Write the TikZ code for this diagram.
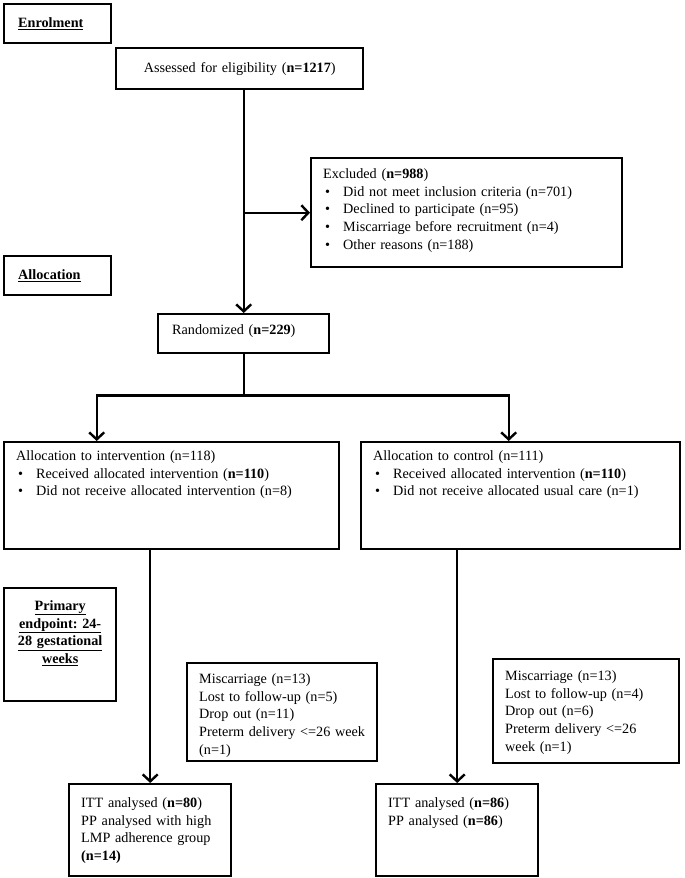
\documentclass[tikz,border=0pt]{standalone}
\usepackage{fontspec}
\setmainfont{Liberation Serif}
\usetikzlibrary{arrows.meta,positioning}
\newcommand{\bul}{\hspace*{2pt}\makebox[18pt][l]{\textbullet}}

\begin{document}
\begin{tikzpicture}[x=1pt, y=-1pt,
    every node/.style={draw, line width=2.4pt, rectangle, anchor=north west, align=left,
      font=\fontsize{14.2}{17.8}\selectfont\frenchspacing, inner xsep=12pt, inner ysep=8pt},
    conn/.style={line width=2.4pt},
    arr/.style={conn, -{Straight Barb[length=7pt,width=15pt]}}]
    \useasboundingbox (0,0) rectangle (685,878);

    % Enrolment
    \node[text width=79pt, inner xsep=14pt, minimum height=39pt] (enrol) at (3,3) {\underline{\textbf{Enrolment}}};
    \node[align=center, text width=223pt, minimum height=41pt] (assess) at (115,47) {Assessed for eligibility (\textbf{n=1217})};
    \node[text width=287pt, text height=12pt, text depth=81pt] (excl) at (310,157) {Excluded (\textbf{n=988})\\
        \bul Did not meet inclusion criteria (n=701)\\
        \bul Declined to participate (n=95)\\
        \bul Miscarriage before recruitment (n=4)\\
        \bul Other reasons (n=188)};

    % Allocation
    \node[text width=79pt, inner xsep=14pt, minimum height=39pt] (alloclab) at (3,255) {\underline{\textbf{Allocation}}};
    \node[text width=143pt, inner xsep=14pt, text height=12pt, text depth=11pt] (rand) at (157,313) {Randomized (\textbf{n=229})};
    \node[text width=311pt, text height=10pt, text depth=81pt] (alloc1) at (3,441) {Allocation to intervention (n=118)\\
        \bul Received allocated intervention (\textbf{n=110})\\
        \bul Did not receive allocated intervention (n=8)};
    \node[text width=295pt, text height=10pt, text depth=81pt] (alloc2) at (360,441) {Allocation to control (n=111)\\
        \bul Received allocated intervention (\textbf{n=110})\\
        \bul Did not receive allocated usual care (n=1)};

    % Follow-up
    \node[align=center, text width=88pt, text height=14pt, text depth=83pt] (primary) at (3,587) {\underline{\textbf{Primary}}\\
        \underline{\textbf{endpoint: 24-}}\\
        \underline{\textbf{28 gestational}}\\
        \underline{\textbf{weeks}}};
    \node[text width=166pt, text height=12pt, text depth=70pt] (drop1) at (186,662) {Miscarriage (n=13)\\
        Lost to follow-up (n=5)\\
        Drop out (n=11)\\
        \mbox{Preterm delivery <=26 week}\\
        (n=1)};
    \node[text width=162pt, text height=13pt, text depth=75pt] (drop2) at (492,658) {Miscarriage (n=13)\\
        Lost to follow-up (n=4)\\
        Drop out (n=6)\\
        Preterm delivery <=26\\
        week (n=1)};

    % Analysis
    \node[text width=138pt, text height=15pt, text depth=61pt] (itt1) at (68,783) {ITT analysed (\textbf{n=80})\\
        PP analysed with high\\
        LMP adherence group\\
        \textbf{(n=14)}};
    \node[text width=138pt, text height=15pt, text depth=61pt] (itt2) at (375,783) {ITT analysed (\textbf{n=86})\\
        PP analysed (\textbf{n=86})};

    % Connectors
    \draw[arr] (rand.north |- assess.south) -- (rand.north);
    \draw[arr] (rand.north |- excl.west) -- (excl.west);
    \draw[conn] (rand.south) -- ++(0,41) coordinate (split);
    \draw[arr] (split) -| ([xshift=-75pt]alloc1.north);
    \draw[arr] (split) -| ([xshift=-12pt]alloc2.north);
    \draw[arr] (itt1.north |- alloc1.south) -- (itt1.north);
    \draw[arr] (itt2.north |- alloc2.south) -- (itt2.north);

\end{tikzpicture}
\end{document}
